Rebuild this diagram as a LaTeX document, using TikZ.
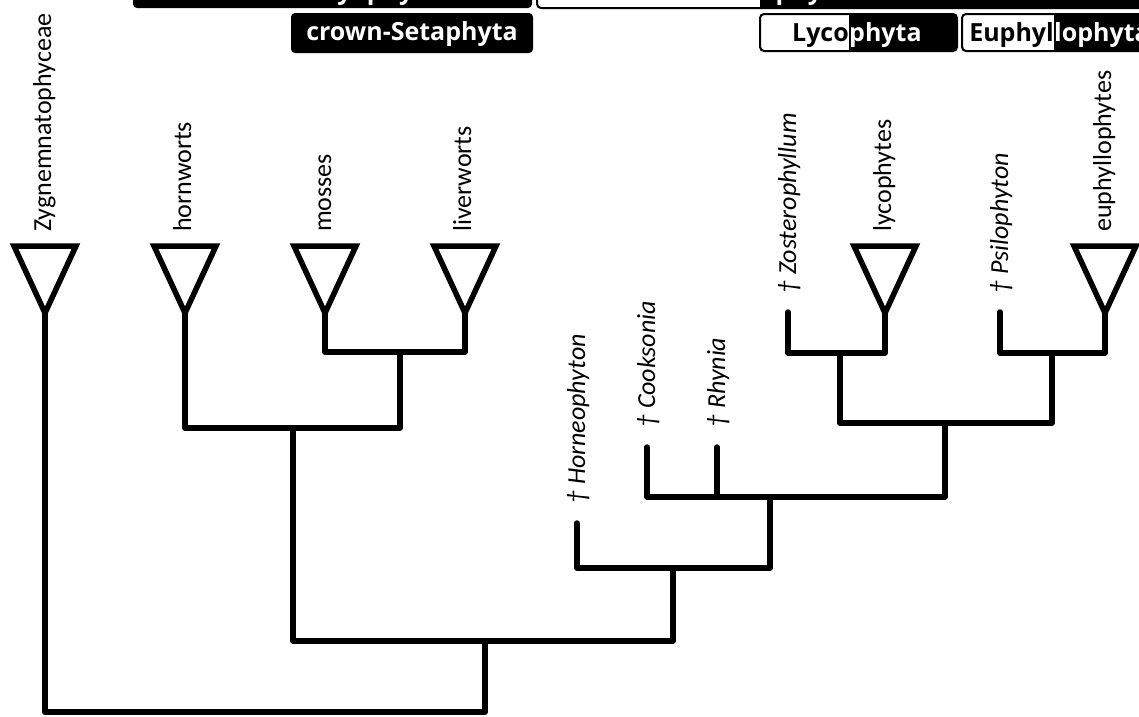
\documentclass[tikz,border=0pt]{standalone}
\usepackage{fontspec}
\setmainfont{Carlito}
\newfontfamily\boxfont{Open Sans}
\begin{document}
\begin{tikzpicture}[x=1pt, y=-1pt,
  branch/.style={line width=5.5pt, line join=round, line cap=round},
  cladetri/.style={line width=5.5pt, line join=miter},
  taxon/.style={rotate=90, anchor=base west, inner sep=0pt, font=\fontsize{26}{30}\selectfont},
  fossil/.style={taxon, font=\fontsize{26}{30}\selectfont\itshape},
  cladebox/.style={rounded corners=4pt, line width=2pt, draw=black},
  boxtext/.style={inner sep=0pt, font=\boxfont\bfseries\fontsize{25}{28}\selectfont}]
\useasboundingbox (0,0) rectangle (1139,716);

\fill[rounded corners=4pt] (133,-30) rectangle (532,8);
\node[boxtext, text=white, anchor=base] (bryo) at (332,-1) {crown-Bryophyta};
\begin{scope}
\clip[rounded corners=4pt] (537,-30) rectangle (1200,8);
\fill[white] (537,-30) rectangle (760,8);
\fill[black] (760,-30) rectangle (1200,8);
\end{scope}
\draw[cladebox] (537,-30) rectangle (1200,8);
\node[boxtext, anchor=base east] (trachA) at (760,-1) {Trache};
\node[boxtext, text=white, anchor=base west] (trachB) at (760,-1) {ophyta};

\fill[rounded corners=4pt] (291,13) rectangle (533,53);
\node[boxtext, text=white, anchor=base] (seta) at (412,40) {crown-Setaphyta};
\begin{scope}
\clip[rounded corners=4pt] (760,14) rectangle (957,51);
\fill[white] (760,14) rectangle (849,51);
\fill[black] (849,14) rectangle (957,51);
\end{scope}
\draw[cladebox] (760,14) rectangle (957,51);
\node[boxtext, anchor=base east] (lycA) at (849,41) {Lyco};
\node[boxtext, text=white, anchor=base west] (lycB) at (849,41) {phyta};
\begin{scope}
\clip[rounded corners=4pt] (962,14) rectangle (1200,51);
\fill[white] (962,14) rectangle (1054,51);
\fill[black] (1054,14) rectangle (1200,51);
\end{scope}
\draw[cladebox] (962,14) rectangle (1200,51);
\node[boxtext, anchor=base east] (eupA) at (1054,41) {Euphyl};
\node[boxtext, text=white, anchor=base west] (eupB) at (1054,41) {lophyta};

\coordinate (zyg) at (45,313);
\coordinate (horn) at (185,313);
\coordinate (moss) at (325,313);
\coordinate (liv) at (465,313);
\coordinate (lyco) at (885,313);
\coordinate (euph) at (1105,313);
\coordinate (hornp) at (577,523);
\coordinate (cook) at (647,447);
\coordinate (rhyn) at (717,447);
\coordinate (zost) at (788,312);
\coordinate (psil) at (1000,312);
\coordinate (jML) at (400,352);
\coordinate (jSet) at (293,428);
\coordinate (jLyc) at (840,353);
\coordinate (jEup) at (1052,353);
\coordinate (jTra) at (945,423);
\coordinate (jPol) at (770,497);
\coordinate (jPr) at (673,568);
\coordinate (jEmb) at (485,641);
\coordinate (jRoot) at (265,712);

\draw[cladetri] (zyg) -- ++(-31,-67) -- ++(62,0) -- cycle;
\draw[cladetri] (horn) -- ++(-31,-67) -- ++(62,0) -- cycle;
\draw[cladetri] (moss) -- ++(-31,-67) -- ++(62,0) -- cycle;
\draw[cladetri] (liv) -- ++(-31,-67) -- ++(62,0) -- cycle;
\draw[cladetri] (lyco) -- ++(-31,-67) -- ++(62,0) -- cycle;
\draw[cladetri] (euph) -- ++(-31,-67) -- ++(62,0) -- cycle;

\node[taxon] (lzyg) at (51,232) {Zygnemnatophyceae};
\node[taxon] (lhorn) at (191,232) {hornworts};
\node[taxon] (lmoss) at (331,232) {mosses};
\node[taxon] (lliv) at (471,232) {liverworts};
\node[taxon] (llyco) at (891,232) {lycophytes};
\node[taxon] (leuph) at (1111,232) {euphyllophytes};
\node[fossil] (lhornp) at (585,504) {† Horneophyton};
\node[fossil] (lcook) at (655,428) {† Cooksonia};
\node[fossil] (lrhyn) at (725,428) {† Rhynia};
\node[fossil] (lzost) at (796,294) {† Zosterophyllum};
\node[fossil] (lpsil) at (1008,294) {† Psilophyton};

\draw[branch] (moss) |- (jML) -| (liv);
\draw[branch] (horn) |- (jSet) -| (jML);
\draw[branch] (zost) |- (jLyc) -| (lyco);
\draw[branch] (psil) |- (jEup) -| (euph);
\draw[branch] (jLyc) |- (jTra) -| (jEup);
\draw[branch] (cook) |- (jPol) -| (jTra);
\draw[branch] (rhyn) -- (rhyn |- jPol);
\draw[branch] (hornp) |- (jPr) -| (jPol);
\draw[branch] (jSet) |- (jEmb) -| (jPr);
\draw[branch] (zyg) |- (jRoot) -| (jEmb);
\end{tikzpicture}
\end{document}
